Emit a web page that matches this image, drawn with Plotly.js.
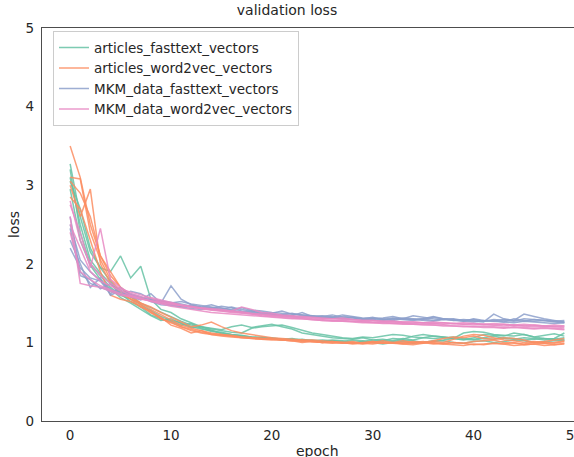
<!DOCTYPE html>
<html>
<head>
<meta charset="utf-8">
<script src="https://cdn.plot.ly/plotly-3.0.1.min.js"></script>
<style>html,body{margin:0;padding:0;background:#fff;overflow:hidden}#wrap{width:574px;height:457px;overflow:hidden;position:relative}#chart{width:592px;height:457px}</style>
</head>
<body>
<div id="wrap"><div id="chart"></div></div>
<script>
const epochs = Array.from({length: 50}, (_, i) => i);
const seriesNames = ["articles_fasttext_vectors", "articles_word2vec_vectors", "MKM_data_fasttext_vectors", "MKM_data_word2vec_vectors"];
const seriesColors = ["#66c2a5", "#fc8d62", "#8da0cb", "#e78ac3"];
const xTickVals = [0, 10, 20, 30, 40, 50];
const yTickVals = [0, 1, 2, 3, 4, 5];

const articlesFasttextRuns = [
  [3.27,2.6,2.15,1.95,1.9,2.1,1.82,1.97,1.55,1.42,1.38,1.3,1.25,1.2,1.18,1.16,1.2,1.22,1.19,1.21,1.23,1.2,1.17,1.12,1.1,1.08,1.06,1.05,1.04,1.06,1.03,1.02,1.05,1.04,1.08,1.1,1.08,1.07,1.05,1.03,1.06,1.1,1.09,1.08,1.12,1.1,1.07,1.09,1.11,1.08],
  [3.2,2.4,2.0,1.85,1.7,1.6,1.55,1.48,1.4,1.33,1.28,1.25,1.2,1.17,1.15,1.12,1.1,1.09,1.07,1.06,1.05,1.04,1.05,1.03,1.02,1.03,1.02,1.01,1.03,1.02,1.0,1.02,1.01,1.03,1.02,1.0,1.01,1.02,1.0,0.99,1.01,1.02,1.0,1.01,1.03,1.02,1.0,1.01,1.02,1.03],
  [3.05,2.7,2.2,1.95,1.78,1.62,1.52,1.45,1.35,1.3,1.27,1.22,1.24,1.18,1.14,1.13,1.1,1.08,1.07,1.05,1.06,1.04,1.03,1.04,1.02,1.01,1.03,1.02,1.0,1.01,1.03,1.04,1.02,1.05,1.03,1.06,1.08,1.07,1.05,1.04,1.03,1.05,1.04,1.06,1.05,1.03,1.04,1.05,1.04,1.06],
  [2.95,2.3,1.98,1.8,1.68,1.57,1.5,1.42,1.34,1.28,1.3,1.24,1.19,1.2,1.15,1.11,1.09,1.08,1.06,1.07,1.05,1.03,1.04,1.02,1.03,1.01,1.02,1.0,0.99,1.01,1.0,0.98,1.0,1.01,0.99,1.0,1.02,1.03,1.05,1.12,1.14,1.13,1.1,1.09,1.08,1.1,1.07,1.05,1.04,1.03],
  [3.1,2.5,2.05,1.88,1.75,1.66,1.58,1.5,1.44,1.38,1.32,1.27,1.22,1.2,1.17,1.15,1.13,1.12,1.18,1.2,1.21,1.22,1.19,1.15,1.12,1.1,1.08,1.06,1.05,1.07,1.06,1.08,1.1,1.09,1.07,1.06,1.05,1.06,1.07,1.05,1.04,1.06,1.08,1.05,1.04,1.06,1.05,1.03,1.05,1.12]
];
const articlesWord2vecRuns = [
  [3.5,3.1,2.5,2.1,1.85,1.7,1.6,1.5,1.42,1.35,1.28,1.22,1.18,1.15,1.12,1.1,1.08,1.07,1.06,1.05,1.04,1.03,1.02,1.03,1.01,1.0,1.01,0.99,1.0,0.98,1.0,0.99,1.0,0.98,0.99,1.0,0.98,0.99,1.0,0.99,0.97,0.98,0.99,0.98,1.0,0.97,0.98,0.99,0.97,0.98],
  [3.1,3.08,2.4,2.05,1.8,1.65,1.55,1.45,1.4,1.3,1.25,1.2,1.15,1.12,1.1,1.09,1.08,1.06,1.05,1.04,1.03,1.03,1.02,1.01,1.02,1.0,1.01,1.0,0.99,1.0,1.01,0.99,1.0,1.02,1.0,0.99,1.01,1.0,1.04,1.08,1.1,1.09,1.06,1.03,1.02,1.0,1.01,1.0,0.99,1.01],
  [3.0,2.6,2.95,2.0,1.75,1.62,1.55,1.5,1.45,1.38,1.32,1.25,1.2,1.22,1.26,1.2,1.15,1.12,1.1,1.08,1.06,1.05,1.04,1.03,1.03,1.02,1.01,1.0,1.01,0.99,1.0,1.02,1.0,0.99,1.0,1.01,0.99,0.98,1.0,0.99,1.01,1.02,1.03,1.0,0.99,0.98,1.0,1.01,1.03,1.05],
  [2.85,2.7,2.3,1.9,1.6,1.55,1.52,1.46,1.38,1.32,1.22,1.18,1.12,1.15,1.1,1.08,1.07,1.06,1.05,1.04,1.05,1.03,1.02,1.0,1.01,1.0,0.99,1.0,0.98,0.99,0.98,1.0,0.99,0.98,0.97,0.99,1.0,0.98,0.97,0.96,0.98,0.97,0.99,0.98,0.96,0.97,0.98,0.96,0.97,0.99],
  [3.05,2.9,2.6,2.1,1.9,1.7,1.58,1.48,1.38,1.3,1.26,1.2,1.16,1.13,1.11,1.1,1.09,1.07,1.06,1.05,1.04,1.04,1.03,1.02,1.01,1.0,1.0,0.99,1.0,0.99,1.01,1.0,0.99,1.0,1.01,1.0,1.02,1.05,1.07,1.06,1.08,1.05,1.04,1.06,1.05,1.03,1.0,0.99,1.0,1.02]
];
const mkmFasttextRuns = [
  [2.45,1.85,1.8,1.68,1.75,1.6,1.65,1.62,1.55,1.5,1.72,1.55,1.48,1.45,1.44,1.42,1.45,1.42,1.4,1.38,1.36,1.35,1.34,1.38,1.33,1.32,1.31,1.3,1.32,1.29,1.3,1.31,1.33,1.3,1.29,1.3,1.28,1.3,1.29,1.27,1.3,1.28,1.27,1.29,1.28,1.36,1.33,1.3,1.28,1.26],
  [2.3,2.0,1.7,1.82,1.6,1.66,1.58,1.54,1.62,1.5,1.48,1.46,1.47,1.44,1.43,1.46,1.44,1.4,1.39,1.38,1.37,1.4,1.36,1.35,1.33,1.34,1.32,1.35,1.33,1.31,1.3,1.29,1.31,1.3,1.34,1.32,1.3,1.29,1.3,1.28,1.29,1.27,1.28,1.26,1.3,1.28,1.27,1.28,1.26,1.25],
  [2.6,1.9,1.75,1.7,1.64,1.6,1.62,1.58,1.52,1.48,1.47,1.45,1.43,1.42,1.44,1.41,1.4,1.38,1.37,1.36,1.35,1.34,1.33,1.32,1.34,1.31,1.33,1.3,1.29,1.3,1.32,1.29,1.28,1.3,1.29,1.28,1.27,1.29,1.28,1.27,1.26,1.28,1.27,1.26,1.25,1.27,1.26,1.25,1.24,1.25],
  [2.2,1.95,1.82,1.78,1.62,1.7,1.6,1.56,1.54,1.52,1.5,1.52,1.49,1.47,1.45,1.43,1.42,1.44,1.41,1.4,1.38,1.37,1.36,1.35,1.34,1.33,1.35,1.32,1.31,1.3,1.29,1.28,1.3,1.29,1.28,1.3,1.33,1.3,1.29,1.28,1.27,1.26,1.36,1.3,1.28,1.27,1.29,1.28,1.27,1.26],
  [2.5,2.05,1.9,1.78,1.67,1.63,1.61,1.57,1.55,1.53,1.51,1.49,1.46,1.45,1.48,1.44,1.41,1.39,1.38,1.37,1.36,1.35,1.37,1.34,1.33,1.32,1.31,1.33,1.32,1.3,1.31,1.3,1.29,1.31,1.3,1.29,1.32,1.3,1.28,1.29,1.28,1.27,1.29,1.28,1.27,1.3,1.29,1.28,1.27,1.28]
];
const mkmWord2vecRuns = [
  [2.75,2.4,1.95,2.45,1.8,1.7,1.62,1.58,1.56,1.52,1.5,1.47,1.45,1.43,1.42,1.4,1.38,1.37,1.36,1.35,1.34,1.33,1.32,1.31,1.3,1.29,1.28,1.28,1.27,1.27,1.26,1.26,1.25,1.25,1.24,1.25,1.24,1.23,1.24,1.23,1.22,1.23,1.22,1.21,1.22,1.21,1.2,1.21,1.2,1.19],
  [2.6,1.75,1.72,1.7,1.65,1.6,1.58,1.55,1.53,1.5,1.48,1.47,1.45,1.44,1.43,1.42,1.4,1.45,1.42,1.38,1.37,1.35,1.34,1.33,1.32,1.31,1.3,1.31,1.29,1.28,1.28,1.27,1.27,1.26,1.26,1.25,1.24,1.25,1.24,1.23,1.24,1.23,1.22,1.23,1.22,1.21,1.22,1.21,1.2,1.21],
  [2.5,2.2,1.9,1.78,1.72,1.66,1.6,1.56,1.52,1.49,1.46,1.44,1.42,1.4,1.38,1.37,1.36,1.35,1.34,1.33,1.32,1.31,1.3,1.3,1.29,1.28,1.28,1.27,1.27,1.26,1.25,1.25,1.24,1.24,1.23,1.23,1.22,1.22,1.21,1.21,1.2,1.21,1.2,1.19,1.2,1.19,1.18,1.19,1.18,1.17],
  [2.8,2.3,2.0,1.85,1.75,1.68,1.64,1.6,1.57,1.54,1.51,1.48,1.46,1.44,1.42,1.41,1.4,1.39,1.37,1.36,1.35,1.34,1.33,1.32,1.31,1.3,1.3,1.29,1.29,1.28,1.28,1.27,1.27,1.26,1.26,1.25,1.26,1.25,1.24,1.25,1.24,1.23,1.24,1.23,1.22,1.23,1.22,1.21,1.22,1.21],
  [2.4,1.9,1.8,1.72,1.67,1.62,1.59,1.56,1.53,1.51,1.49,1.47,1.45,1.43,1.41,1.4,1.39,1.38,1.36,1.34,1.33,1.32,1.31,1.3,1.29,1.28,1.27,1.27,1.26,1.25,1.25,1.24,1.24,1.23,1.23,1.22,1.22,1.21,1.21,1.2,1.2,1.19,1.19,1.18,1.19,1.18,1.17,1.18,1.17,1.16]
];
const allRuns = [articlesFasttextRuns, articlesWord2vecRuns, mkmFasttextRuns, mkmWord2vecRuns];

const traces = [];
allRuns.forEach((runs, s) => {
  runs.forEach((vals, r) => {
    traces.push({
      x: epochs, y: vals, type: 'scatter', mode: 'lines',
      name: seriesNames[s], legendgroup: seriesNames[s], showlegend: r === 0,
      line: {color: seriesColors[s], width: 1.5}, opacity: 0.85, hoverinfo: 'skip'
    });
  });
});

const font = {family: 'DejaVu Sans, sans-serif', size: 13.5, color: '#262626'};
const titleFont = {family: font.family, size: 14, color: '#262626'};
const layout = {
  width: 592, height: 457,
  margin: {l: 42, r: 0, t: 28, b: 36, pad: 0},
  paper_bgcolor: '#fff', plot_bgcolor: '#fff',
  font: font,
  title: {text: 'validation loss', x: 287/592, xref: 'container', xanchor: 'center', y: 1, yref: 'container', yanchor: 'top', pad: {t: 5}, font: titleFont},
  xaxis: {range: [-2.79, 51.74], tickvals: xTickVals, showgrid: false, zeroline: false,
    showline: true, linecolor: '#4d4d4d', linewidth: 1.25, mirror: true, ticks: '', ticklabelstandoff: 2,
    tickfont: font},
  yaxis: {range: [0, 5], tickvals: yTickVals, showgrid: false, zeroline: false,
    showline: true, linecolor: '#4d4d4d', linewidth: 1.25, ticks: '', ticklabelstandoff: 4,
    title: {text: 'loss', standoff: 2, font: titleFont}, tickfont: font},
  annotations: [{text: 'epoch', xref: 'paper', yref: 'paper', x: 0.5, y: 0, xanchor: 'center', yanchor: 'top',
    yshift: -20, showarrow: false, font: titleFont}],
  showlegend: true,
  legend: {x: 11/550, y: 0.992, xanchor: 'left', yanchor: 'top', bgcolor: 'rgba(255,255,255,0.8)',
    bordercolor: '#cccccc', borderwidth: 1, font: {family: font.family, size: 13.5, color: '#262626'},
    tracegroupgap: 0, itemwidth: 30}
};
Plotly.newPlot('chart', traces, layout, {displayModeBar: false, staticPlot: true});
</script>
</body>
</html>
